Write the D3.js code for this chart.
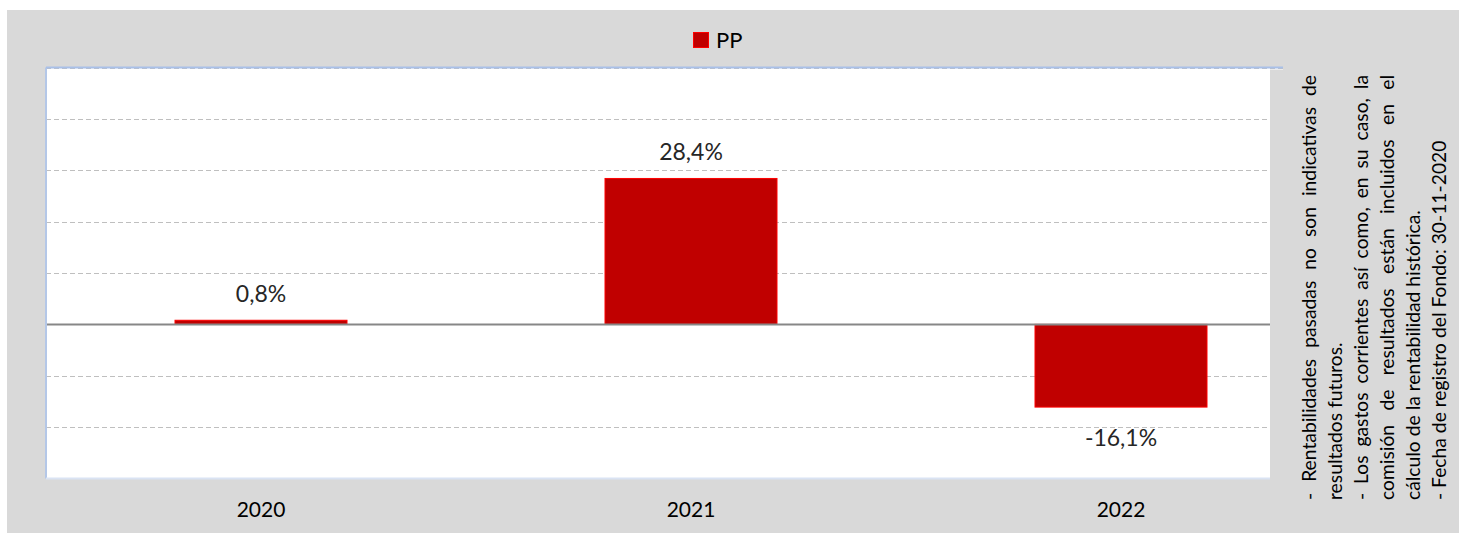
<!DOCTYPE html>
<html>
<head>
<meta charset="utf-8">
<script src="https://cdn.jsdelivr.net/npm/d3@7"></script>
<style>
  body { margin: 0; background: #fff; }
  text { font-family: Lato, "Open Sans", sans-serif; }
</style>
</head>
<body>
<div id="chart"></div>
<script>
// data
const years = ["2020", "2021", "2022"];
const ppValues = [0.8, 28.4, -16.1];
const seriesName = "PP";
const gridTicks = [-30, -20, -10, 0, 10, 20, 30, 40, 50];
const noteLines = [
  { text: "- Rentabilidades pasadas no son indicativas de", justify: true },
  { text: "resultados futuros.", justify: false },
  { text: "- Los gastos corrientes así como, en su caso, la", justify: true },
  { text: "comisión de resultados están incluidos en el", justify: true },
  { text: "cálculo de la rentabilidad histórica.", justify: false },
  { text: "- Fecha de registro del Fondo: 30-11-2020", justify: false }
];

const fmt = v => d3.format(".1f")(v).replace(".", ",").replace("\u2212", "-") + "%";

const width = 1459;
const height = 533;
const plot = { left: 46, top: 67.5, bottom: 478.5, right: 1336 };

const svg = d3.select("#chart")
  .append("svg")
  .attr("width", width)
  .attr("height", height);

// gray chart background
svg.append("rect")
  .attr("x", 7).attr("y", 10)
  .attr("width", width - 7).attr("height", height - 10)
  .attr("fill", "#d9d9d9");

const x = d3.scaleBand()
  .domain(years)
  .range([plot.left, plot.right])
  .paddingInner(0.6)
  .paddingOuter(0.3);

const y = d3.scaleLinear()
  .domain([-30, 50])
  .range([plot.bottom, plot.top]);

// plot area
svg.append("rect")
  .attr("x", plot.left).attr("y", plot.top)
  .attr("width", plot.right - plot.left).attr("height", plot.bottom - plot.top)
  .attr("fill", "#fff");

// dashed gridlines
svg.append("g")
  .selectAll("line")
  .data(gridTicks.filter(t => t !== 0 && t !== -30))
  .join("line")
  .attr("x1", plot.left).attr("x2", plot.right)
  .attr("y1", d => Math.round(y(d)) + 0.5)
  .attr("y2", d => Math.round(y(d)) + 0.5)
  .attr("stroke", "#bfbfbf")
  .attr("stroke-width", 1)
  .attr("stroke-dasharray", "5,3");

// bars
svg.append("g")
  .selectAll("rect")
  .data(ppValues)
  .join("rect")
  .attr("x", (d, i) => x(years[i]))
  .attr("width", x.bandwidth())
  .attr("y", d => y(Math.max(0, d)))
  .attr("height", d => Math.abs(y(d) - y(0)))
  .attr("fill", "#c00000")
  .attr("stroke", "#ff0000")
  .attr("stroke-width", 1);

// zero line
svg.append("line")
  .attr("x1", plot.left).attr("x2", plot.right)
  .attr("y1", y(0)).attr("y2", y(0))
  .attr("stroke", "#878787")
  .attr("stroke-width", 2);

// data labels
svg.append("g")
  .selectAll("text")
  .data(ppValues)
  .join("text")
  .attr("x", (d, i) => x(years[i]) + x.bandwidth() / 2)
  .attr("y", d => d >= 0 ? y(d) - 18 : y(d) + 39)
  .attr("text-anchor", "middle")
  .attr("font-size", 23)
  .attr("fill", "#262626")
  .text(d => fmt(d));

// plot border
svg.append("line")
  .attr("x1", plot.left).attr("x2", plot.left)
  .attr("y1", plot.top).attr("y2", plot.bottom)
  .attr("stroke", "#b4c7e7").attr("stroke-width", 2);
svg.append("line")
  .attr("x1", plot.left).attr("x2", plot.right)
  .attr("y1", plot.bottom).attr("y2", plot.bottom)
  .attr("stroke", "#dae3f3").attr("stroke-width", 2);
svg.append("line")
  .attr("x1", plot.left).attr("x2", plot.right)
  .attr("y1", plot.top).attr("y2", plot.top)
  .attr("stroke", "#a9c0e8").attr("stroke-width", 2);

// note box overlays the right end of the plot
svg.append("rect")
  .attr("x", 1270).attr("y", plot.top + 2)
  .attr("width", width - 1270).attr("height", height - plot.top - 2)
  .attr("fill", "#d9d9d9");
svg.append("rect")
  .attr("x", 1283).attr("y", 50)
  .attr("width", width - 1283).attr("height", height - 50)
  .attr("fill", "#d9d9d9");

// x axis labels
svg.append("g")
  .selectAll("text")
  .data(years)
  .join("text")
  .attr("x", d => x(d) + x.bandwidth() / 2)
  .attr("y", 517)
  .attr("text-anchor", "middle")
  .attr("font-size", 21)
  .attr("fill", "#000")
  .text(d => d);

// legend
const legend = svg.append("g");
legend.append("rect")
  .attr("x", 693.5).attr("y", 32.5)
  .attr("width", 15).attr("height", 15)
  .attr("fill", "#c00000")
  .attr("stroke", "#ff0000");
legend.append("text")
  .attr("x", 716).attr("y", 48)
  .attr("font-size", 22)
  .attr("fill", "#000")
  .text(seriesName);

// rotated notes, justified like the source text box
const noteWidth = 425;
const noteFont = 19.3;
noteLines.forEach((line, i) => {
  const g = svg.append("g")
    .attr("transform", `translate(${1316 + i * 26},500) rotate(-90)`);
  if (!line.justify) {
    g.append("text")
      .attr("x", 0).attr("y", 0)
      .attr("font-size", noteFont)
      .attr("fill", "#000")
      .text(line.text);
    return;
  }
  const words = line.text.split(" ");
  const nodes = words.map(w => g.append("text")
    .attr("y", 0)
    .attr("font-size", noteFont)
    .attr("fill", "#000")
    .text(w));
  const widths = nodes.map(n => n.node().getComputedTextLength());
  const gap = (noteWidth - d3.sum(widths)) / (words.length - 1);
  let pos = 0;
  nodes.forEach((n, k) => {
    n.attr("x", pos);
    pos += widths[k] + gap;
  });
});
</script>
</body>
</html>
